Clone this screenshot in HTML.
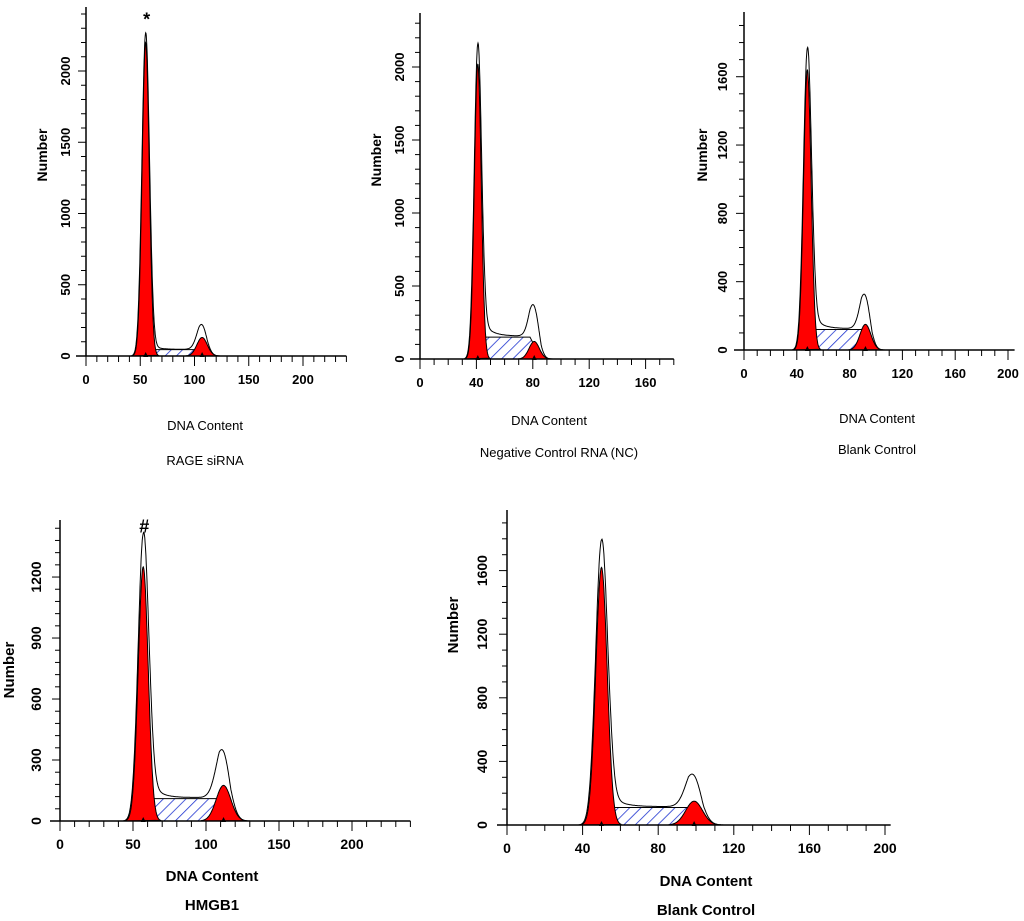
<!DOCTYPE html>
<html><head><meta charset="utf-8">
<style>
html,body{margin:0;padding:0;background:#fff;}
svg{display:block;}
text{font-family:"Liberation Sans",sans-serif;fill:#000;}
</style></head>
<body>
<svg id="fig" width="1024" height="921" viewBox="0 0 1024 921" xmlns="http://www.w3.org/2000/svg">
<defs>
<pattern id="hatch" patternUnits="userSpaceOnUse" width="8" height="8" patternTransform="rotate(45)">
<rect width="8" height="8" fill="#fff"/>
<line x1="0" y1="0" x2="0" y2="8" stroke="#1f35d0" stroke-width="1.6"/>
</pattern>
</defs>
</svg>
<script>
// ---- data (DNA content in channels, counts) ----
const panelNames = ["rage-sirna","negative-control","blank-control-a","hmgb1","blank-control-b"];
const g1Mean   = [55, 41, 48, 57, 50];
const g1Peak   = [2250, 2100, 1720, 1370, 1750];
const g1Red    = [2200, 2020, 1640, 1250, 1620];
const sLevel   = [45, 150, 120, 110, 110];
const g2Mean   = [107, 81, 92, 112, 99];
const g2Red    = [130, 120, 150, 175, 150];
const g2Outline= [190, 265, 240, 270, 240];
const xTickLabels = [[0,50,100,150,200],[0,40,80,120,160],[0,40,80,120,160,200],[0,50,100,150,200],[0,40,80,120,160,200]];
const yTickLabels = [[0,500,1000,1500,2000],[0,500,1000,1500,2000],[0,400,800,1200,1600],[0,300,600,900,1200],[0,400,800,1200,1600]];
const xLabels = ["DNA Content","DNA Content","DNA Content","DNA Content","DNA Content"];
const subLabels = ["RAGE siRNA","Negative Control RNA (NC)","Blank Control","HMGB1","Blank Control"];
const markers = ["*","","","#",""];

// ---- layout (pixels) ----
const L = [
 {ax:86, by:356, top:7,  xs:1.085, xmax:240, ys:0.1425, yminor:100, fs:13, bold:false, lab:[205,430], sub:[205,465], numX:47, numY:155, tickX:70},
 {ax:420,by:359, top:13, xs:1.41,  xmax:180, ys:0.146,  yminor:100, fs:13, bold:false, lab:[549,425], sub:[559,457], numX:381,numY:160, tickX:404},
 {ax:744,by:350, top:12, xs:1.32,  xmax:205, ys:0.1708, yminor:100, fs:13, bold:false, lab:[877,423], sub:[877,454], numX:707,numY:155, tickX:727},
 {ax:60, by:821, top:520,xs:1.46,  xmax:240, ys:0.2033, yminor:60,  fs:14, bold:true,  lab:[212,881], sub:[212,910], numX:14, numY:670, tickX:41},
 {ax:507,by:825, top:510,xs:1.89,  xmax:203, ys:0.159,  yminor:100, fs:14, bold:true,  lab:[706,886], sub:[706,915], numX:458,numY:625, tickX:487}
];

const svg = document.getElementById('fig');
const NS = "http://www.w3.org/2000/svg";
function mk(tag, attrs, parent){const e=document.createElementNS(NS,tag);for(const k in attrs)e.setAttribute(k,attrs[k]);(parent||svg).appendChild(e);return e;}
function gauss(x,m,s){return Math.exp(-0.5*((x-m)/s)*((x-m)/s));}

for(let i=0;i<5;i++){
  const c=L[i];
  const X=v=>c.ax+v*c.xs, Y=v=>c.by-v*c.ys;
  const g=mk('g',{});
  
  
  const s1=g1Mean[i]*0.06, s2=g2Mean[i]*0.045;
  const sStart=g1Mean[i], sEnd=g2Mean[i];
  const sFn=x=>{ if(x<sStart-3||x>sEnd+5) return 0;
    let r=1; if(x<sStart+5) r=(x-(sStart-3))/8; if(x>sEnd-3) r=(sEnd+5-x)/8; return sLevel[i]*Math.max(0,Math.min(1,r)); };
  // S hatched region
  let d='M'+X(sStart-3)+','+Y(0);
  for(let x=sStart-3;x<=sEnd+5;x+=0.5) d+=' L'+X(x).toFixed(1)+','+Y(sFn(x)).toFixed(1);
  d+=' Z';
  const sp=mk('path',{d:d,fill:'url(#hatch)',stroke:'#000','stroke-width':1},g);
  
  
  // G1 red
  d='M'+X(g1Mean[i]-3.5*s1)+','+Y(0);
  for(let x=g1Mean[i]-3.5*s1;x<=g1Mean[i]+3.5*s1;x+=0.25) d+=' L'+X(x).toFixed(1)+','+Y(g1Red[i]*gauss(x,g1Mean[i],s1)).toFixed(1);
  d+=' Z';
  const r1=mk('path',{d:d,fill:'#ff0000',stroke:'#000','stroke-width':1},g);
  
  
  // G2 red
  d='M'+X(g2Mean[i]-3*s2)+','+Y(0);
  for(let x=g2Mean[i]-3*s2;x<=g2Mean[i]+3.2*s2;x+=0.25){d+=' L'+X(x).toFixed(1)+','+Y(g2Red[i]*gauss(x,g2Mean[i],s2)).toFixed(1);}
  d+=' Z';
  const r2=mk('path',{d:d,fill:'#ff0000',stroke:'#000','stroke-width':1},g);
  
  
  // outline total
  d='';
  const x0=g1Mean[i]-4*s1, x1=g2Mean[i]+4*s2;
  for(let x=x0;x<=x1;x+=0.25){
    const tail = (x>g1Mean[i]) ? sLevel[i]*0.5*Math.exp(-(x-g1Mean[i]-2*s1)/6)*Math.min(1,(x-g1Mean[i])/(2*s1)) : 0;
    const v=g1Peak[i]*gauss(x,g1Mean[i],s1*1.05)+sFn(x)*1.05+tail + g2Outline[i]*gauss(x,g2Mean[i],s2*0.95)*1;
    d+=(d?' L':'M')+X(x).toFixed(1)+','+Y(v).toFixed(1);
  }
  const ol=mk('path',{d:d,fill:'none',stroke:'#000','stroke-width':1},g);
  
  
  // axes
  const ax=mk('line',{x1:c.ax,y1:c.top,x2:c.ax,y2:c.by,stroke:'#000','stroke-width':1.5},g);
  
  
  const bx=mk('line',{x1:c.ax-10,y1:c.by,x2:X(c.xmax),y2:c.by,stroke:'#000','stroke-width':1.5},g);
  
  
  const ymaxV=(c.by-c.top)/c.ys;
  for(let v=0;v<=ymaxV;v+=c.yminor){
    const isMaj=yTickLabels[i].includes(v);
    mk('line',{x1:c.ax-(isMaj?8:5),y1:Y(v),x2:c.ax,y2:Y(v),stroke:'#000','stroke-width':1},g);
  }
  for(let v=0;v<=c.xmax;v+=10){
    const isMaj=xTickLabels[i].includes(v);
    mk('line',{x1:X(v),y1:c.by,x2:X(v),y2:c.by+(isMaj?10:6),stroke:'#000','stroke-width':1},g);
  }
  xTickLabels[i].forEach(v=>{
    const t=mk('text',{x:X(v),y:c.by+28,'text-anchor':'middle','font-size':c.fs,'font-weight':'bold'},g);
    t.textContent=v;
    
    
  });
  yTickLabels[i].forEach(v=>{
    const t=mk('text',{x:c.tickX,y:Y(v),'text-anchor':'middle','font-size':c.fs,'font-weight':'bold',transform:'rotate(-90 '+c.tickX+' '+Y(v)+')'},g);
    t.textContent=v;
    
    
  });
  const nm=mk('text',{x:c.numX,y:c.numY,'text-anchor':'middle','font-size':c.fs+1,'font-weight':'bold',transform:'rotate(-90 '+c.numX+' '+c.numY+')'},g);
  nm.textContent='Number';
  
  
  const xl=mk('text',{x:c.lab[0],y:c.lab[1],'text-anchor':'middle','font-size':c.fs+(c.bold?1:0),'font-weight':c.bold?'bold':'normal'},g);
  xl.textContent=xLabels[i];
  
  
  const sl=mk('text',{x:c.sub[0],y:c.sub[1],'text-anchor':'middle','font-size':c.fs+(c.bold?1:0),'font-weight':c.bold?'bold':'normal'},g);
  sl.textContent=subLabels[i];
  
  
  if(markers[i]){
    const mt=mk('text',{x:X(g1Mean[i])+1,y:Y(g1Peak[i])-10,'text-anchor':'middle','font-size':18,'font-weight':'bold'},g);
    mt.textContent=markers[i];
    
    
  }
  [g1Mean[i],g2Mean[i]].forEach(m=>{
    mk('path',{d:'M'+(X(m)-2.5)+','+(c.by+1)+' L'+(X(m)+2.5)+','+(c.by+1)+' L'+X(m)+','+(c.by-4)+' Z',fill:'#000'},g);
  });
}
</script>
</body></html>
